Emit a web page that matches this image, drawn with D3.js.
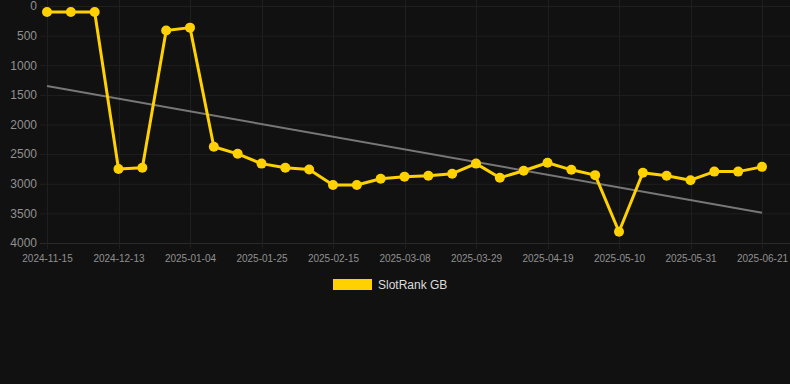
<!DOCTYPE html>
<html><head><meta charset="utf-8">
<script src="https://cdn.jsdelivr.net/npm/d3@7"></script>
<style>html,body{margin:0;padding:0;background:#111111;}svg{display:block;}</style>
</head><body>
<svg id="chart" width="790" height="384"></svg>
<script>
const dates = ["2024-11-15","2024-11-22","2024-11-29","2024-12-13","2024-12-20","2024-12-28","2025-01-04","2025-01-11","2025-01-18","2025-01-25","2025-02-01","2025-02-08","2025-02-15","2025-02-22","2025-03-01","2025-03-08","2025-03-15","2025-03-22","2025-03-29","2025-04-05","2025-04-12","2025-04-19","2025-04-26","2025-05-03","2025-05-10","2025-05-17","2025-05-24","2025-05-31","2025-06-07","2025-06-14","2025-06-21"];
const ranks = [100,100,100,2750,2730,415,365,2375,2495,2660,2730,2760,3020,3020,2915,2880,2865,2830,2660,2900,2780,2645,2765,2855,3810,2815,2865,2940,2795,2795,2715];
const trendEnds = [1350, 3490];
const yTicks = [0,500,1000,1500,2000,2500,3000,3500,4000];
const seriesName = "SlotRank GB";

const svg = d3.select("#chart");
const x = d3.scalePoint().domain(dates).range([47, 762]);
const y = d3.scaleLinear().domain([0, 4000]).range([6, 243]);
const labelDates = dates.filter((d,i) => i % 3 === 0);

// grid
svg.append("g").selectAll("line").data(yTicks).join("line")
  .attr("x1", 40).attr("x2", 790)
  .attr("y1", d => y(d)+0.5).attr("y2", d => y(d)+0.5)
  .attr("stroke", d => d === 4000 ? "#2a2a2a" : "#1f1f1f").attr("stroke-width", 1);
svg.append("g").selectAll("line").data(labelDates).join("line")
  .attr("x1", d => Math.round(x(d))+0.5).attr("x2", d => Math.round(x(d))+0.5)
  .attr("y1", 0).attr("y2", 249)
  .attr("stroke", "#1f1f1f").attr("stroke-width", 1);

// y axis labels
const yAxis = d3.axisLeft(y).tickValues(yTicks).tickSize(0).tickPadding(0).tickFormat(d3.format("d"));
const gy = svg.append("g").attr("transform", "translate(37,0)").call(yAxis);
gy.select(".domain").remove();
gy.selectAll("text").attr("fill", "#909090").style("font-family", "Arial, Liberation Sans, sans-serif").style("font-size", "12px");

// x axis labels
const xAxis = d3.axisBottom(x).tickValues(labelDates).tickSize(0).tickPadding(0);
const gx = svg.append("g").attr("transform", "translate(0,255)").call(xAxis);
gx.select(".domain").remove();
gx.selectAll("text").attr("fill", "#909090").style("font-family", "Arial, Liberation Sans, sans-serif").style("font-size", "10px");

// trend
svg.append("line")
  .attr("x1", x(dates[0])).attr("y1", y(trendEnds[0]))
  .attr("x2", x(dates[dates.length-1])).attr("y2", y(trendEnds[1]))
  .attr("stroke", "#777777").attr("stroke-width", 2);

// series
const line = d3.line().x((d,i) => x(dates[i])).y(d => y(d));
svg.append("path").datum(ranks).attr("d", line)
  .attr("fill", "none").attr("stroke", "#FFD100").attr("stroke-width", 3).attr("stroke-linejoin", "round");
svg.append("g").selectAll("circle").data(ranks).join("circle")
  .attr("cx", (d,i) => x(dates[i])).attr("cy", d => y(d)).attr("r", 5)
  .attr("fill", "#FFD100");

// legend
svg.append("rect").attr("x", 333).attr("y", 279).attr("width", 39).attr("height", 11).attr("fill", "#FFD100");
svg.append("text").attr("x", 378).attr("y", 289).text(seriesName)
  .attr("fill", "#dddddd").style("font-family", "Arial, Liberation Sans, sans-serif").style("font-size", "12px");
</script>
</body></html>
